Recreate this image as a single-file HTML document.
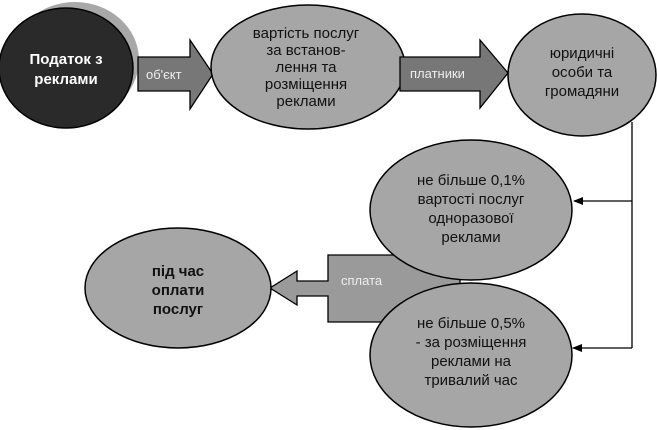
<!DOCTYPE html>
<html><head><meta charset="utf-8"><style>
html,body{margin:0;padding:0;background:#fff;}
svg{display:block;font-family:"Liberation Sans",Arial,sans-serif;}
</style></head><body>
<svg width="657" height="430" viewBox="0 0 657 430" xmlns="http://www.w3.org/2000/svg">
<defs>
<marker id="ah" markerWidth="10" markerHeight="8" refX="9" refY="4" orient="auto" markerUnits="userSpaceOnUse">
<path d="M0,0 L10,4 L0,8 z" fill="#000"/></marker>
</defs>
<polyline points="632,122 632,348" fill="none" stroke="#000" stroke-width="1.3"/>
<line x1="632" y1="201" x2="574" y2="201" stroke="#000" stroke-width="1.3" marker-end="url(#ah)"/>
<line x1="632" y1="348" x2="573" y2="348" stroke="#000" stroke-width="1.3" marker-end="url(#ah)"/>

<ellipse cx="75" cy="60" rx="64" ry="58" fill="#a8a8a8"/>
<ellipse cx="66" cy="68" rx="67" ry="60" fill="#2a2a2a" stroke="#000" stroke-width="1.5"/>
<text x="66" y="64" fill="#fff" font-size="15" font-weight="bold" text-anchor="middle">Податок з</text>
<text x="66" y="84" fill="#fff" font-size="15" font-weight="bold" text-anchor="middle">реклами</text>

<path d="M138,57 L190,57 L190,40 L213,74 L190,109 L190,91 L138,91 Z" fill="#777" stroke="#000" stroke-width="1.3"/>
<text x="146" y="79" fill="#eee" font-size="13">об'єкт</text>

<ellipse cx="308" cy="67" rx="97" ry="62" fill="#a6a6a6" stroke="#000" stroke-width="1.5"/>
<g font-size="15" text-anchor="middle" fill="#111">
<text x="306" y="38">вартість послуг</text>
<text x="306" y="55">за встанов-</text>
<text x="306" y="72">лення та</text>
<text x="306" y="89">розміщення</text>
<text x="306" y="106">реклами</text>
</g>

<path d="M400,57 L480,57 L480,40 L508,73 L480,108 L480,91 L400,91 Z" fill="#777" stroke="#000" stroke-width="1.3"/>
<text x="410" y="78" fill="#eee" font-size="13">платники</text>

<ellipse cx="582" cy="75" rx="74" ry="61" fill="#a6a6a6" stroke="#000" stroke-width="1.5"/>
<g font-size="15" text-anchor="middle" fill="#111">
<text x="582" y="58">юридичні</text>
<text x="582" y="77">особи та</text>
<text x="582" y="96">громадяни</text>
</g>

<path d="M460,255 L328,255 L328,281 L297,281 L297,271 L270,288 L297,305 L297,296 L328,296 L328,322 L460,322 Z" fill="#9a9a9a" stroke="#000" stroke-width="1.3"/>

<ellipse cx="471" cy="210" rx="101" ry="70" fill="#a6a6a6" stroke="#000" stroke-width="1.5"/>
<g font-size="15" text-anchor="middle" fill="#111">
<text x="471" y="185">не більше 0,1%</text>
<text x="471" y="204">вартості послуг</text>
<text x="471" y="223">одноразової</text>
<text x="471" y="242">реклами</text>
</g>
<text x="341" y="285" fill="#eee" font-size="13">сплата</text>

<ellipse cx="471" cy="355" rx="101" ry="72" fill="#a6a6a6" stroke="#000" stroke-width="1.5"/>
<g font-size="15" text-anchor="middle" fill="#111">
<text x="471" y="328">не більше 0,5%</text>
<text x="471" y="347">- за розміщення</text>
<text x="471" y="366">реклами на</text>
<text x="471" y="385">тривалий час</text>
</g>

<ellipse cx="178" cy="288" rx="93" ry="60" fill="#a6a6a6" stroke="#000" stroke-width="1.5"/>
<g font-size="15" font-weight="bold" text-anchor="middle" fill="#111">
<text x="178" y="276">під час</text>
<text x="178" y="295">оплати</text>
<text x="178" y="314">послуг</text>
</g>
</svg>
</body></html>
